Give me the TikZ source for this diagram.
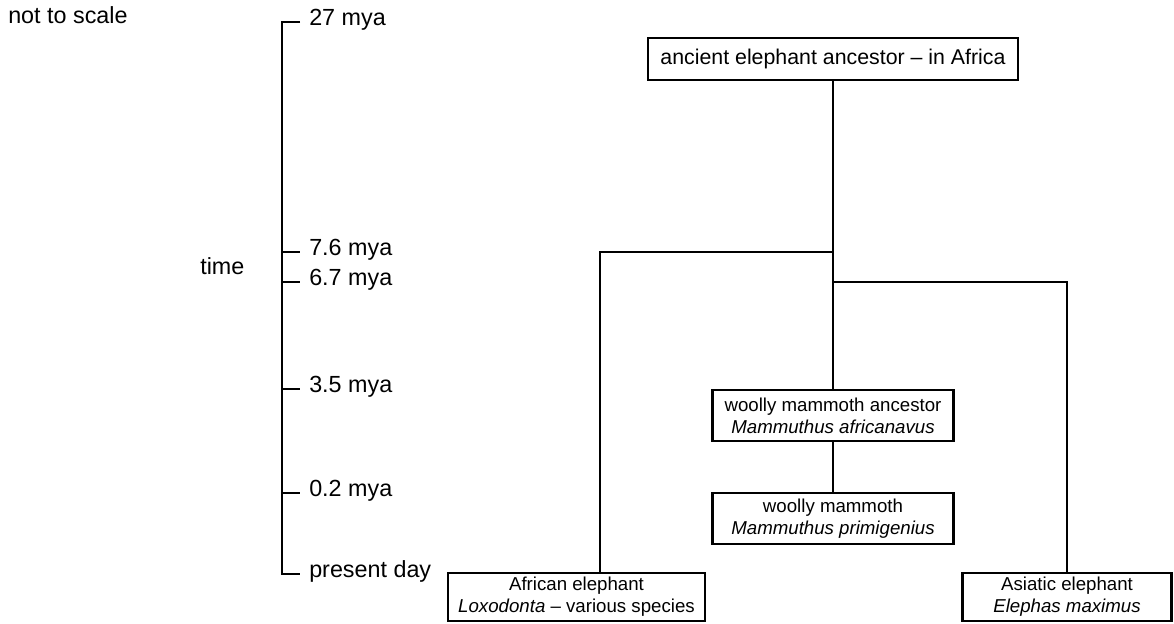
\documentclass[tikz,border=0pt]{standalone}
\usepackage{fontspec}
\setmainfont{Liberation Sans}
\usetikzlibrary{positioning}

\begin{document}
\begin{tikzpicture}[
    x=0.75pt, y=-0.75pt,
    box/.style={rectangle, draw, line width=1.8pt, inner sep=2pt, align=center, font=\fontsize{14}{16.5}\selectfont},
    lbl/.style={anchor=west, inner sep=0pt, text height=0.72em, text depth=0.21em, font=\fontsize{17.5}{20}\selectfont},
    link/.style={line width=1.8pt}
]
    \useasboundingbox (0,0) rectangle (1174,624);

    % Time axis
    \node[lbl] (scale) at (8,20) {not to scale};
    \node[lbl] (time) at (200,271) {time};

    \foreach \y/\t [count=\i] in {22/27 mya, 252/7.6 mya, 282/6.7 mya, 389/3.5 mya, 493/0.2 mya, 574/present day} {
        \coordinate (tick\i) at (282,\y);
        \draw[link] (tick\i) -- ++(18,0);
        \node[lbl] (mya\i) at (309,\y) {\t};
    }
    \draw[link, line join=miter] (tick1) ++(18,0) -- (tick1) -- (tick6) -- ++(18,0);

    % Family tree
    \node[box, font=\fontsize{16}{19}\selectfont, minimum width=277.5pt, minimum height=31.5pt] (ancestor) at (833,59) {ancient elephant ancestor -- in Africa};

    \node[box, minimum width=180.75pt, minimum height=38.25pt] (woollyanc) at (833,415.5) {woolly mammoth ancestor\\\textit{Mammuthus africanavus}};
    \node[box, minimum width=180.75pt, minimum height=38.25pt] (woolly) at (833,518.5) {woolly mammoth\\\textit{Mammuthus primigenius}};

    \node[box, minimum width=192.75pt, minimum height=36pt] (african) at (576.5,597) {African elephant\\\textit{Loxodonta} -- various species};
    \node[box, minimum width=156.75pt, minimum height=36pt] (asiatic) at (1067,597) {Asiatic elephant\\\textit{Elephas maximus}};

    \coordinate (split1) at (833,252);
    \coordinate (split2) at (833,282);

    \draw[link] (ancestor.south) -- (woollyanc.north);
    \draw[link] (split1) -| ([xshift=17.6pt]african.north);
    \draw[link] (split2) -| (asiatic.north);
    \draw[link] (woollyanc) -- (woolly);
\end{tikzpicture}
\end{document}
